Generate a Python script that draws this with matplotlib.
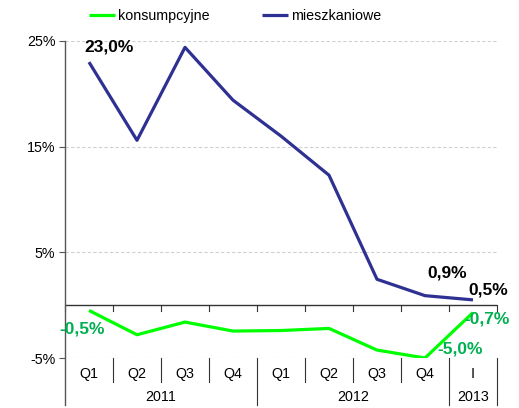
import matplotlib
matplotlib.use('Agg')

import matplotlib.pyplot as plt
import matplotlib.transforms as mtransforms
import numpy as np

plt.rcParams['font.family'] = ['Liberation Sans', 'DejaVu Sans']

quarters = ['Q1', 'Q2', 'Q3', 'Q4', 'Q1', 'Q2', 'Q3', 'Q4', 'I']
years = ['2011', '2012', '2013']
year_spans = [(0, 4), (4, 8), (8, 9)]
konsumpcyjne = [-0.5, -2.8, -1.6, -2.45, -2.4, -2.2, -4.25, -5.0, -0.7]
mieszkaniowe = [23.0, 15.6, 24.4, 19.4, 16.0, 12.3, 2.45, 0.9, 0.5]

green = '#00FF00'
navy = '#2E3192'
label_green = '#00B050'

fig = plt.figure(figsize=(5.19, 4.08), dpi=100)
ax = fig.add_axes([65/519, 1-358/408, (497-65)/519, (358-41)/408])

x = np.arange(len(quarters)) + 0.5
ax.plot(x, konsumpcyjne, color=green, lw=2.3, label='konsumpcyjne', solid_capstyle='butt')
ax.plot(x, mieszkaniowe, color=navy, lw=2.3, label='mieszkaniowe', solid_capstyle='butt')

ax.set_xlim(0, 9)
ax.set_ylim(-5, 25)
ax.set_yticks([-5, 5, 15, 25])
ax.set_yticklabels(['-5%', '5%', '15%', '25%'], fontsize=10.3)
ax.yaxis.grid(True, ls=(0, (3, 2)), color='#d0d0d0', lw=0.8)
ax.set_axisbelow(True)
ax.tick_params(axis='y', length=4, width=0.8, color='#555555', pad=3)
ax.set_xticks([])
for s in ['top', 'right', 'bottom', 'left']:
    ax.spines[s].set_visible(False)

# zero line with small ticks
ax.axhline(0, color='#333333', lw=1.0, zorder=1)
trans = mtransforms.blended_transform_factory(ax.transData, ax.transAxes)
tick_len = 6 / 317
zero_ax = 5 / 30
for b in range(10):
    ax.plot([b, b], [zero_ax, zero_ax - tick_len], color='#333333', lw=0.8, transform=trans, clip_on=False)

# left axis line down through the category area
ax.plot([0, 0], [1, -0.148], color='#555555', lw=1.0, transform=trans, clip_on=False)

# category separators
long_seps = [0, 4, 8, 9]
for b in range(1, 10):
    y_end = -0.148 if b in long_seps else -0.076
    ax.plot([b, b], [0, y_end], color='#333333', lw=0.8, transform=trans, clip_on=False)

for xi, q in zip(x, quarters):
    ax.text(xi, -0.052, q, transform=trans, ha='center', va='center', fontsize=10.3)
for yr, (a, b) in zip(years, year_spans):
    ax.text((a + b) / 2, -0.124, yr, transform=trans, ha='center', va='center', fontsize=10.3)

# data labels
bold = dict(fontsize=12.5, fontweight='bold', ha='center', va='center')
ax.text(0.91, 24.4, '23,0%', color='black', **bold)
ax.text(7.96, 3.0, '0,9%', color='black', **bold)
ax.text(8.81, 1.42, '0,5%', color='black', **bold)
ax.text(0.36, -2.3, '-0,5%', color=label_green, **bold)
ax.text(8.79, -1.3, '-0,7%', color=label_green, **bold)
ax.text(8.23, -4.15, '-5,0%', color=label_green, **bold)

fig.legend(loc='center', bbox_to_anchor=(235/519, 1-16/408), ncol=2, frameon=False,
           fontsize=10.3, handlelength=1.8, handletextpad=0.2, columnspacing=3.7)

fig.savefig('out.png', dpi=100)
plt.close()
